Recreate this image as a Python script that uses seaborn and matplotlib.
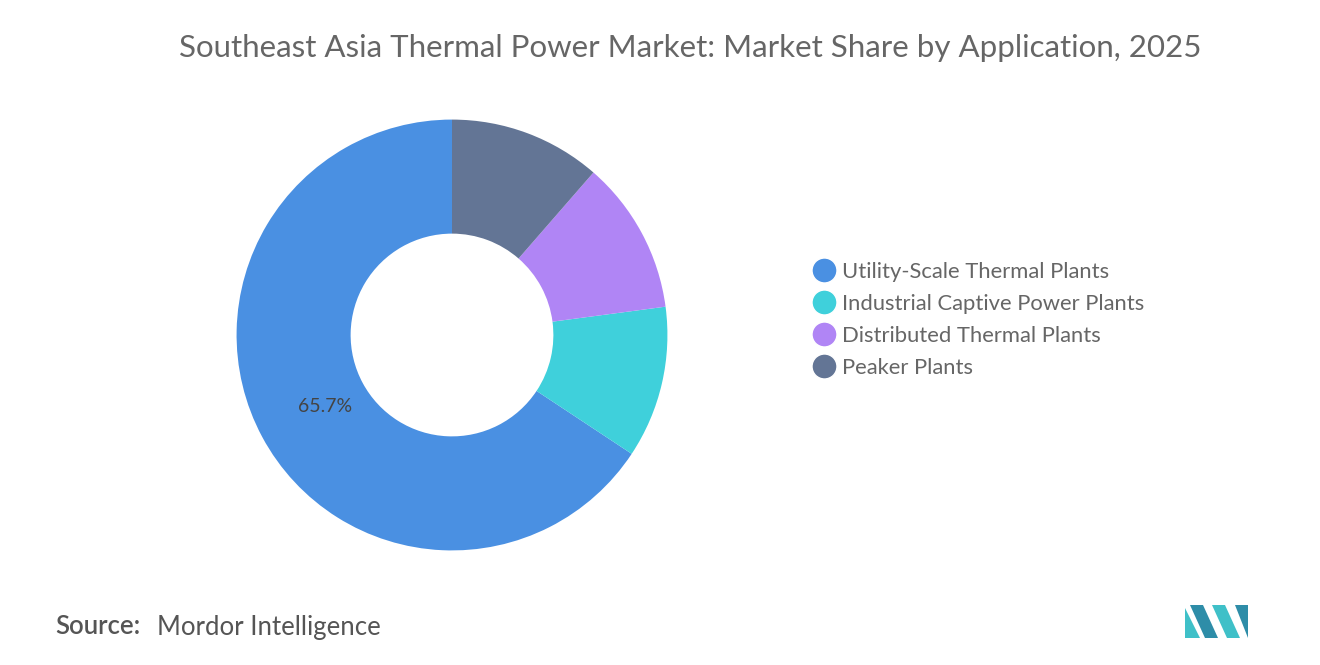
import matplotlib
matplotlib.use("Agg")
import matplotlib.pyplot as plt
import seaborn as sns
from matplotlib.patches import Polygon
from matplotlib.lines import Line2D

sns.set_theme(style="white")
plt.rcParams['font.family'] = ['Lato', 'DejaVu Sans']

categories = ["Utility-Scale Thermal Plants", "Industrial Captive Power Plants",
              "Distributed Thermal Plants", "Peaker Plants"]
values = [65.7, 11.4, 11.5, 11.4]
colors = ["#4A90E2", "#3FD0DB", "#B085F5", "#637595"]

fig = plt.figure(figsize=(13.2, 6.65), dpi=100)
ax = fig.add_axes([452/1320 - 0.2, 1 - 335/665 - 0.4, 0.4, 0.8])
ax.set_aspect("equal")
wedges, _ = ax.pie(values, colors=colors, startangle=90, counterclock=True,
                   wedgeprops=dict(width=0.54, edgecolor="none"), radius=1.02)
ax.text(-0.6, -0.34, "65.7%", fontsize=14, color="#444444", ha="center", va="center")

fig.text(690/1320, 1 - 48/665, "Southeast Asia Thermal Power Market: Market Share by Application, 2025",
         ha="center", va="center", fontsize=22.5, color="#666666")

handles = [Line2D([0], [0], marker="o", color="w", markerfacecolor=c, markersize=18) for c in colors]
fig.legend(handles, categories, loc="center left", bbox_to_anchor=(787/1320, 1 - 320/665),
           frameon=False, fontsize=15.8, labelcolor="#666666", labelspacing=0.55,
           handletextpad=0.0, handlelength=1.6)

fig.text(55/1320, 1 - 627/665, "Source:", fontsize=18.5, color="#555555", va="center", fontweight="semibold")
fig.text(157/1320, 1 - 627/665, "Mordor Intelligence", fontsize=18.5, color="#555555", va="center")

def P(pts, c):
    fig.patches.append(Polygon([(x/1320, 1 - y/665) for x, y in pts], closed=True,
                               transform=fig.transFigure, facecolor=c, edgecolor="none"))
P([(1185, 638), (1185, 608), (1200, 638)], "#3FC0C8")
P([(1190, 605), (1203, 605), (1218, 638), (1205, 638)], "#2E8DA8")
P([(1212, 605), (1225, 605), (1240, 638), (1227, 638)], "#3FC0C8")
P([(1235, 605), (1248, 605), (1248, 638)], "#2E8DA8")

fig.savefig("out.png", dpi=100)
